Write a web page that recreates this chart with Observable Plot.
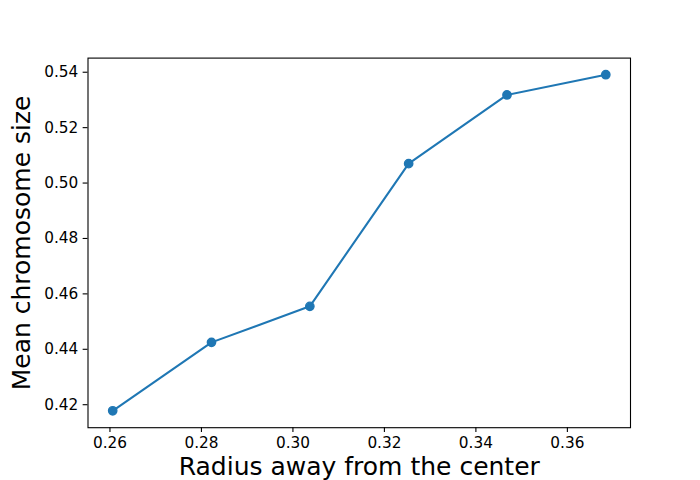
<!DOCTYPE html>
<html>
<head>
<meta charset="utf-8">
<script src="https://cdn.jsdelivr.net/npm/d3@7"></script>
<script src="https://cdn.jsdelivr.net/npm/@observablehq/plot@0.6"></script>
<style>
  html, body { margin: 0; padding: 0; background: white; }
  svg { display: block; }
</style>
</head>
<body>
<div id="chart"></div>
<script>
const radius = [0.2606, 0.2822, 0.3037, 0.3253, 0.3468, 0.3684];
const meanSize = [0.4178, 0.4425, 0.4555, 0.5070, 0.5318, 0.5391];
const xTicks = [0.26, 0.28, 0.30, 0.32, 0.34, 0.36];
const yTicks = [0.42, 0.44, 0.46, 0.48, 0.50, 0.52, 0.54];
const xLabel = "Radius away from the center";
const yLabel = "Mean chromosome size";

const data = radius.map((r, i) => ({r, m: meanSize[i]}));
const blue = "#1f77b4";

const chart = Plot.plot({
  width: 700,
  height: 480,
  marginLeft: 87.5,
  marginRight: 70,
  marginTop: 57.6,
  marginBottom: 52.8,
  style: {fontFamily: "'DejaVu Sans', sans-serif", background: "white", color: "black", overflow: "visible"},
  x: {domain: [0.2552, 0.3738]},
  y: {domain: [0.4117, 0.5451]},
  marks: [
    Plot.line(data, {x: "r", y: "m", stroke: blue, strokeWidth: 2.08}),
    Plot.dot(data, {x: "r", y: "m", r: 4.17, fill: blue, stroke: blue, strokeWidth: 1.39}),
    Plot.axisX({ticks: xTicks, tickFormat: d3.format(".2f"), tickSize: 4.86, tickPadding: 5.0, fontSize: 15.3, label: null, strokeWidth: 1.1}),
    Plot.axisY({ticks: yTicks, tickFormat: d3.format(".2f"), tickSize: 4.86, tickPadding: 4.86, fontSize: 15.3, label: null, strokeWidth: 1.1}),
    Plot.frame({stroke: "black", strokeWidth: 1.1}),
    Plot.text([xLabel], {text: d => d, frameAnchor: "bottom", dy: 47.6, lineAnchor: "bottom", textAnchor: "middle", fontSize: 25, fill: "black"}),
    Plot.text([yLabel], {text: d => d, frameAnchor: "left", dx: -58.2, rotate: -90, lineAnchor: "bottom", textAnchor: "middle", fontSize: 25, fill: "black"})
  ]
});
document.getElementById("chart").appendChild(chart);
</script>
</body>
</html>
